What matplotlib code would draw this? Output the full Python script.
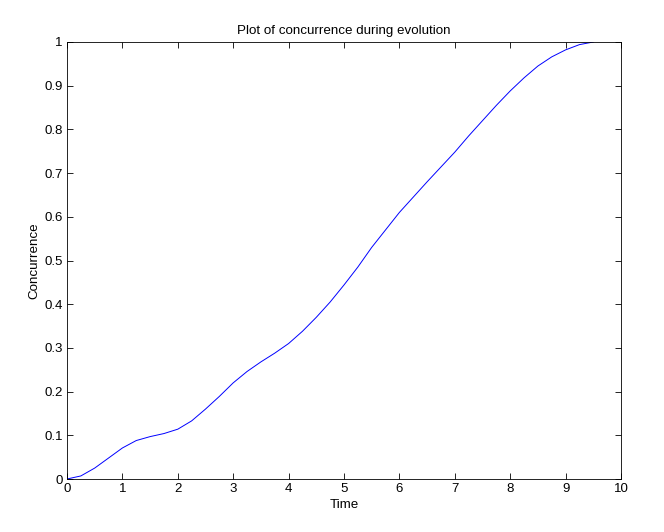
import matplotlib
matplotlib.use("Agg")
import matplotlib.pyplot as plt
from matplotlib.ticker import FuncFormatter

time = [0, 0.25, 0.5, 0.75, 1.0, 1.25, 1.5, 1.75, 2.0, 2.25, 2.5, 2.75, 3.0, 3.25,
        3.5, 3.75, 4.0, 4.25, 4.5, 4.75, 5.0, 5.25, 5.5, 5.75, 6.0, 6.25, 6.5,
        6.75, 7.0, 7.25, 7.5, 7.75, 8.0, 8.25, 8.5, 8.75, 9.0, 9.25, 9.5]
concurrence = [0, 0.007, 0.025, 0.048, 0.071, 0.088, 0.097, 0.104, 0.114, 0.133,
               0.16, 0.189, 0.22, 0.246, 0.268, 0.288, 0.31, 0.338, 0.37, 0.405,
               0.444, 0.485, 0.53, 0.57, 0.61, 0.645, 0.68, 0.714, 0.748, 0.785,
               0.82, 0.855, 0.888, 0.918, 0.945, 0.966, 0.982, 0.994, 1.0]
xticks = [0, 1, 2, 3, 4, 5, 6, 7, 8, 9, 10]
yticks = [0, 0.1, 0.2, 0.3, 0.4, 0.5, 0.6, 0.7, 0.8, 0.9, 1]

plt.rcParams['font.family'] = ['Liberation Sans', 'DejaVu Sans']
fig = plt.figure(figsize=(6.64, 5.32), dpi=100)
ax = fig.add_axes([67/664, 53/532, (621-67)/664, (479-42)/532])
ax.plot(time, concurrence, color='#0000ff', linewidth=0.7)
ax.set_xlim(0, 10)
ax.set_ylim(0, 1)
ax.set_xticks(xticks)
ax.set_yticks(yticks)
ax.yaxis.set_major_formatter(FuncFormatter(lambda v, p: f"{v:g}"))
ax.tick_params(direction='in', top=True, right=True, labelsize=9.5, length=4,
               width=0.6, pad=3)
for s in ax.spines.values():
    s.set_linewidth(0.6)
ax.set_title("Plot of concurrence during evolution", fontsize=9.6, pad=6)
ax.set_xlabel("Time", fontsize=9.6, labelpad=3)
ax.set_ylabel("Concurrence", fontsize=9.6, labelpad=3)
fig.savefig("out.png", dpi=100)
